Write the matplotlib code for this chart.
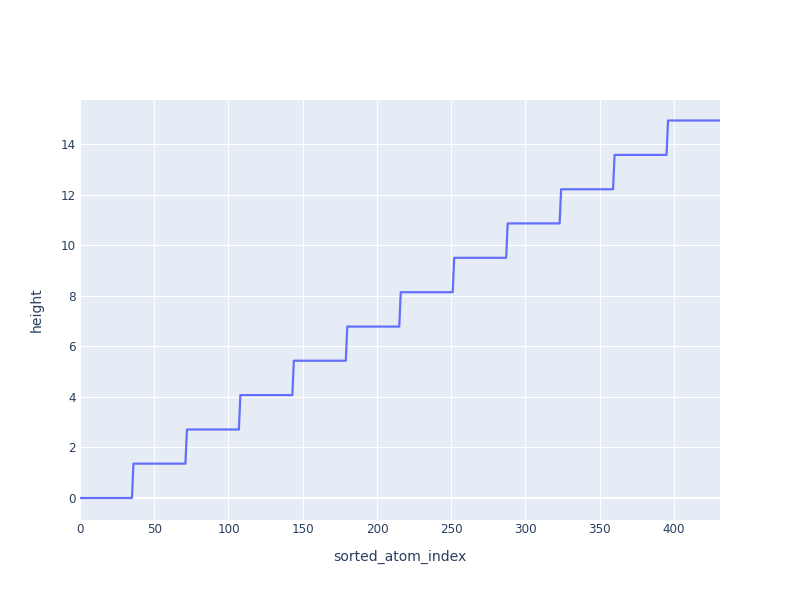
import numpy as np
import matplotlib
matplotlib.use("Agg")
import matplotlib.pyplot as plt

# Step levels (height), each held for a block of atoms
levels = [0.0, 1.36, 2.71, 4.07, 5.43, 6.78, 8.14, 9.50, 10.86, 12.21, 13.57, 14.93]
atoms_per_level = [36] * 12

height = np.repeat(levels, atoms_per_level)
sorted_atom_index = np.arange(len(height))

xticks = [0, 50, 100, 150, 200, 250, 300, 350, 400]
yticks = [0, 2, 4, 6, 8, 10, 12, 14]

plt.rcParams['font.family'] = ['DejaVu Sans']
text_color = '#2a3f5f'
PX = 72 / 100  # plotly px -> points at dpi 100

fig = plt.figure(figsize=(8, 6), dpi=100)
ax = fig.add_axes([0.1, 0.1333, 0.8, 0.7])
ax.set_facecolor('#E5ECF6')

ax.plot(sorted_atom_index, height, color='#636EFA', linewidth=2.2 * PX, zorder=3)

ax.set_xlim(0, sorted_atom_index[-1])
ax.set_ylim(-0.87, 15.74)
ax.set_xticks(xticks)
ax.set_yticks(yticks)
ax.grid(True, color='white', linewidth=1 * PX, zorder=0)
ax.axhline(0, color='white', linewidth=2 * PX, zorder=1)
ax.axvline(0, color='white', linewidth=2 * PX, zorder=1)
ax.set_axisbelow(True)
for s in ax.spines.values():
    s.set_visible(False)
ax.tick_params(axis='both', length=0, labelsize=12 * PX, labelcolor=text_color)
ax.tick_params(axis='x', pad=2)
ax.tick_params(axis='y', pad=3)

ax.set_xlabel('sorted_atom_index', fontsize=14 * PX, color=text_color, labelpad=10)
ax.set_ylabel('height', fontsize=14 * PX, color=text_color, labelpad=12)

fig.savefig('out.png', dpi=100)
